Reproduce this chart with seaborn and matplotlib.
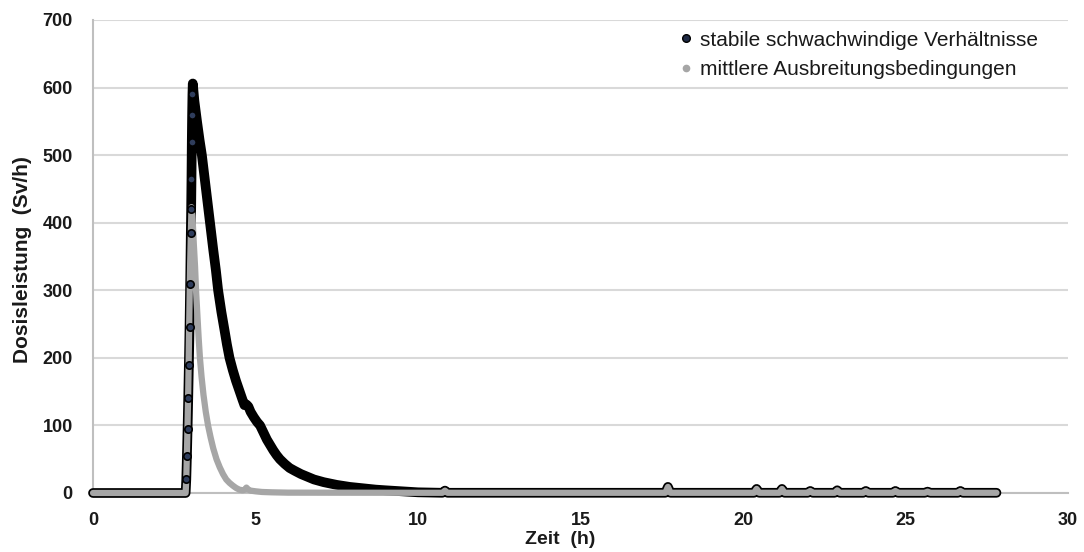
import matplotlib
matplotlib.use("Agg")
import matplotlib.pyplot as plt
import seaborn as sns
import pandas as pd
from matplotlib.lines import Line2D

# Zeitverlauf der Dosisleistung, stabile schwachwindige Verhältnisse (Sv/h)
zeit_stabil = [0.0, 2.85, 2.87, 2.89, 2.91, 2.93, 2.95, 2.97, 2.99, 3.01,
               3.02, 3.03, 3.04, 3.05, 3.06, 3.07,
               3.12, 3.20, 3.28, 3.35, 3.45, 3.53, 3.60, 3.70, 3.78, 3.85,
               3.95, 4.05, 4.12, 4.20, 4.30, 4.40, 4.50, 4.60, 4.66, 4.72,
               4.78, 4.85, 4.95, 5.05, 5.14, 5.25, 5.35, 5.45, 5.55, 5.65,
               5.75, 5.90, 6.05, 6.20, 6.40, 6.60, 6.80, 7.10, 7.50, 7.90,
               8.30, 8.70, 9.00, 9.50, 10.0,
               10.75, 10.83, 10.91, 17.61, 17.69, 17.77, 20.34, 20.42, 20.50,
               21.12, 21.20, 21.28, 21.99, 22.07, 22.15, 22.82, 22.90, 22.98,
               23.70, 23.78, 23.86, 24.61, 24.69, 24.77, 25.60, 25.68, 25.76,
               26.61, 26.69, 26.77, 27.8]
dosis_stabil = [0.0, 0.0, 20, 55, 95, 140, 190, 245, 310, 385,
                420, 465, 520, 560, 590, 606,
                580, 550, 522, 500, 460, 428, 400, 360, 330, 300,
                268, 240, 220, 200, 182, 166, 152, 138, 130, 131,
                128, 120, 112, 105, 100, 89, 79, 71, 63, 56,
                50, 43, 37, 33, 28, 24, 20, 16, 12, 9,
                7, 5, 4, 2.5, 1.0,
                0.3, 3.5, 0.3, 0.3, 9, 0.3, 0.3, 6, 0.3,
                0.3, 6, 0.3, 0.3, 3, 0.3, 0.3, 4, 0.3,
                0.3, 3, 0.3, 0.3, 3, 0.3, 0.3, 2, 0.3,
                0.3, 3, 0.3, 0.3]

# Zeitverlauf der Dosisleistung, mittlere Ausbreitungsbedingungen (Sv/h)
zeit_mittel = [0.0, 2.85, 2.87, 2.90, 2.93, 2.96, 2.99, 3.03, 3.06, 3.10,
               3.14, 3.17, 3.21, 3.25, 3.29, 3.34, 3.40, 3.47, 3.54, 3.62,
               3.70, 3.80, 3.90, 4.00, 4.10, 4.20, 4.30, 4.40, 4.50, 4.60,
               4.68, 4.72, 4.78, 4.85, 5.00, 5.20, 5.50, 6.00, 10.0,
               10.75, 10.83, 10.91, 17.61, 17.69, 17.77, 20.34, 20.42, 20.50,
               21.12, 21.20, 21.28, 21.99, 22.07, 22.15, 22.82, 22.90, 22.98,
               23.70, 23.78, 23.86, 24.61, 24.69, 24.77, 25.60, 25.68, 25.76,
               26.61, 26.69, 26.77, 27.8]
dosis_mittel = [0.0, 0.0, 20, 80, 150, 250, 340, 423, 410, 370,
                335, 300, 265, 230, 200, 172, 145, 120, 100, 82,
                66, 50, 38, 28, 20, 15, 11, 7.5, 5, 4,
                5, 8, 5, 3.5, 2.5, 1.5, 1.0, 0.5, 0.3,
                0.3, 3.5, 0.3, 0.3, 9, 0.3, 0.3, 6, 0.3,
                0.3, 6, 0.3, 0.3, 3, 0.3, 0.3, 4, 0.3,
                0.3, 3, 0.3, 0.3, 3, 0.3, 0.3, 2, 0.3,
                0.3, 3, 0.3, 0.3]

label_stabil = "stabile schwachwindige Verhältnisse"
label_mittel = "mittlere Ausbreitungsbedingungen"

y_ticks = [0, 100, 200, 300, 400, 500, 600, 700]
x_ticks = [0, 5, 10, 15, 20, 25, 30]

sns.set_theme(style="white")
plt.rcParams["font.family"] = ["Liberation Sans", "DejaVu Sans"]

fig = plt.figure(figsize=(10.84, 5.52), dpi=100)
ax = fig.add_axes([0.0858, 0.1069, 0.8994, 0.8569])

df_stabil = pd.DataFrame({"Zeit": zeit_stabil, "Dosis": dosis_stabil})
df_mittel = pd.DataFrame({"Zeit": zeit_mittel, "Dosis": dosis_mittel})

ax.yaxis.grid(True, color="#d9d9d9", linewidth=1.5, zorder=0)
ax.set_axisbelow(True)

sns.lineplot(data=df_stabil, x="Zeit", y="Dosis", ax=ax, color="black",
             linewidth=7, solid_capstyle="round", solid_joinstyle="round",
             sort=False, zorder=3, legend=False, clip_on=False)
sns.lineplot(data=df_mittel, x="Zeit", y="Dosis", ax=ax, color="#a6a6a6",
             linewidth=4.5, solid_capstyle="round", solid_joinstyle="round",
             sort=False, zorder=4, legend=False, clip_on=False)

# Messpunkte im steilen Anstieg als Kreise
rise = df_stabil[(df_stabil["Zeit"] > 2.86) & (df_stabil["Zeit"] < 3.07)]
sns.scatterplot(data=rise, x="Zeit", y="Dosis", ax=ax, s=28, color="#2f3d5c",
                edgecolor="black", linewidth=1.2, zorder=5, legend=False)

ax.set_xlim(0, 30)
ax.set_ylim(0, 700)
ax.set_xticks(x_ticks)
ax.set_yticks(y_ticks)
ax.set_xticklabels([str(t) for t in x_ticks], fontsize=13, fontweight="bold", color="#1a1a1a")
ax.set_yticklabels([str(t) for t in y_ticks], fontsize=13, fontweight="bold", color="#1a1a1a")
ax.tick_params(axis="y", length=0, pad=14.5)
ax.tick_params(axis="x", length=0, pad=13.5)

for side in ["top", "right"]:
    ax.spines[side].set_visible(False)
for side in ["left", "bottom"]:
    ax.spines[side].set_color("#bfbfbf")
    ax.spines[side].set_linewidth(1.5)

ax.set_xlabel("Zeit  (h)", fontsize=14, fontweight="bold", color="#1a1a1a")
ax.set_ylabel("Dosisleistung  (Sv/h)", fontsize=15, fontweight="bold", color="#1a1a1a")
ax.xaxis.set_label_coords(0.479, -0.080)
ax.yaxis.set_label_coords(-0.063, 0.493)

handles = [
    Line2D([], [], linestyle="none", marker="o", markersize=5.5,
           markerfacecolor="#1f2a44", markeredgecolor="black"),
    Line2D([], [], linestyle="none", marker="o", markersize=4.5,
           markerfacecolor="#a6a6a6", markeredgecolor="#a6a6a6"),
]
leg = ax.legend(handles, [label_stabil, label_mittel], loc="upper right",
                bbox_to_anchor=(0.984, 1.008), frameon=False, fontsize=15,
                handlelength=0.6, handletextpad=0.35, labelspacing=0.5,
                borderaxespad=0.3)
for t in leg.get_texts():
    t.set_color("#1a1a1a")

fig.savefig("out.png", dpi=100)
